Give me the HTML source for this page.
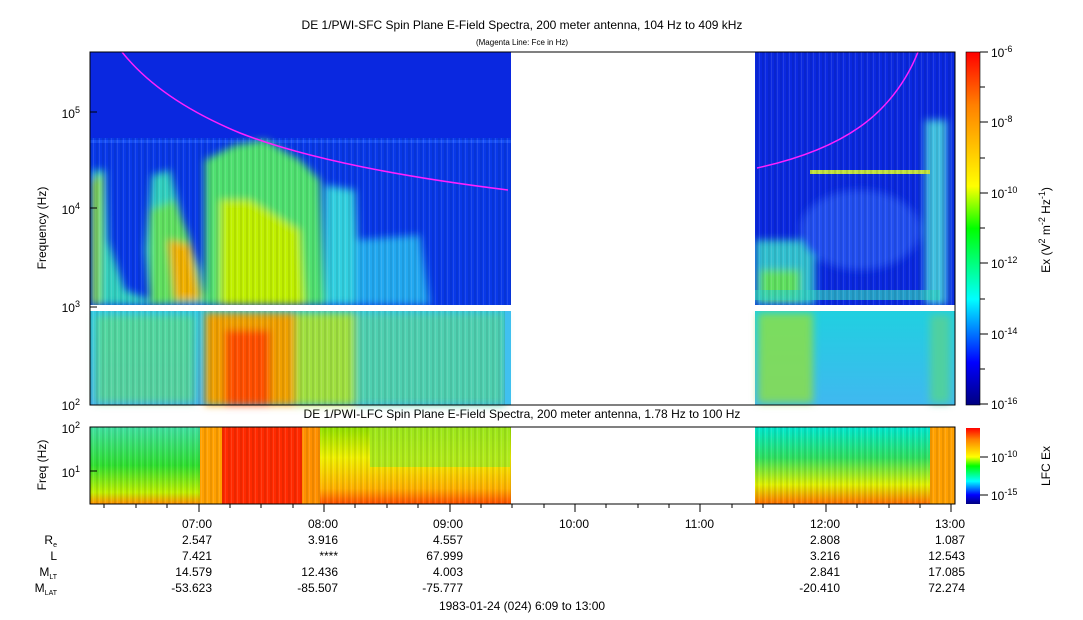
<!DOCTYPE html>
<html><head><style>
html,body{margin:0;padding:0;background:#fff;}
svg{display:block;font-family:"Liberation Sans",sans-serif;}
</style></head><body>
<svg width="1083" height="620" viewBox="0 0 1083 620" xmlns="http://www.w3.org/2000/svg">
<defs>
<linearGradient id="cb" x1="0" y1="1" x2="0" y2="0">
<stop offset="0" stop-color="#00007f"/><stop offset="0.12" stop-color="#0000ff"/>
<stop offset="0.3" stop-color="#00ffff"/><stop offset="0.5" stop-color="#00ff00"/>
<stop offset="0.62" stop-color="#ffff00"/><stop offset="0.85" stop-color="#ff8000"/>
<stop offset="1" stop-color="#ff0000"/></linearGradient>
<linearGradient id="lowL" x1="0" y1="0" x2="0" y2="1">
<stop offset="0" stop-color="#30c8e8"/><stop offset="1" stop-color="#40b0f0"/></linearGradient>
<linearGradient id="lowR" x1="0" y1="0" x2="0" y2="1">
<stop offset="0" stop-color="#20d0e0"/><stop offset="1" stop-color="#40b8f0"/></linearGradient>
<linearGradient id="lfcL" x1="0" y1="0" x2="0" y2="1">
<stop offset="0" stop-color="#40e0a0"/><stop offset="0.5" stop-color="#30e030"/><stop offset="0.85" stop-color="#c0f000"/><stop offset="1" stop-color="#ff9000"/></linearGradient>
<linearGradient id="lfcM" x1="0" y1="0" x2="0" y2="1">
<stop offset="0" stop-color="#90e000"/><stop offset="0.4" stop-color="#f0f000"/><stop offset="0.8" stop-color="#ffb000"/><stop offset="1" stop-color="#ff5000"/></linearGradient>
<linearGradient id="lfcR" x1="0" y1="0" x2="0" y2="1">
<stop offset="0" stop-color="#00e8d0"/><stop offset="0.4" stop-color="#30e060"/><stop offset="0.75" stop-color="#e0f000"/><stop offset="1" stop-color="#ff7000"/></linearGradient>
<filter id="bl" x="-20%" y="-20%" width="140%" height="140%"><feGaussianBlur stdDeviation="4"/></filter>
<pattern id="vs" width="6" height="10" patternUnits="userSpaceOnUse"><rect x="0" y="0" width="2" height="10" fill="#000" opacity="0.08"/><rect x="3" y="0" width="1" height="10" fill="#fff" opacity="0.1"/></pattern>
<clipPath id="c1"><rect x="90" y="52" width="421" height="253"/></clipPath>
<clipPath id="c2"><rect x="755" y="52" width="200" height="253"/></clipPath>
</defs>

<text x="522" y="29" font-size="12" text-anchor="middle">DE 1/PWI-SFC  Spin Plane E-Field Spectra, 200 meter antenna, 104 Hz to 409 kHz</text>
<text x="522" y="45" font-size="8" text-anchor="middle">(Magenta Line: Fce in Hz)</text>
<text x="522" y="418" font-size="12" text-anchor="middle">DE 1/PWI-LFC  Spin Plane E-Field Spectra, 200 meter antenna, 1.78 Hz to 100 Hz</text>

<rect x="90" y="52" width="421" height="253" fill="#0a28e0"/>
<g clip-path="url(#c1)">
<rect x="90" y="138" width="421" height="167" fill="#0838e8"/>
<rect x="90" y="140" width="421" height="3" fill="#1850f8"/>
<g filter="url(#bl)">
<path d="M92 170 L105 170 L108 240 L125 290 L150 300 L145 250 L152 175 L170 170 L185 230 L200 270 L205 305 L92 305 Z" fill="#30d0c0"/>
<path d="M92 180 L102 175 L100 305 L92 305 Z" fill="#90e030"/>
<path d="M150 210 L175 200 L190 240 L205 300 L150 305 Z" fill="#60e060"/>
<path d="M168 240 L190 245 L200 300 L175 300 Z" fill="#f0b000"/>
<path d="M205 160 L235 145 L265 140 L300 160 L320 180 L325 305 L205 305 Z" fill="#50e070"/>
<path d="M220 200 L250 200 L300 230 L305 305 L220 305 Z" fill="#c0f000"/>
<path d="M325 185 L355 190 L360 305 L325 305 Z" fill="#30d0e0"/>
<path d="M355 240 L420 235 L430 305 L355 305 Z" fill="#20a8f0"/>
</g>
<rect x="90" y="138" width="421" height="167" fill="url(#vs)"/>
<path d="M122 52 Q 160 100 240 133 Q 330 168 508 190" stroke="#ff20ff" stroke-width="1.5" fill="none"/>
</g>
<rect x="90" y="311" width="421" height="94" fill="url(#lowL)"/>
<g filter="url(#bl)">
<rect x="95" y="315" width="100" height="88" fill="#60e080" opacity="0.7"/>
<rect x="205" y="313" width="90" height="92" fill="#f0a000"/>
<rect x="225" y="330" width="45" height="75" fill="#ff5000"/>
<rect x="295" y="313" width="60" height="92" fill="#a0e040"/>
<rect x="355" y="313" width="150" height="92" fill="#50d0b0"/>
</g>
<rect x="90" y="311" width="421" height="94" fill="url(#vs)"/>
<rect x="505" y="311" width="6" height="94" fill="#40c0f0"/>

<rect x="755" y="52" width="200" height="253" fill="#0a28e0"/>
<g clip-path="url(#c2)">
<g filter="url(#bl)">
<rect x="755" y="240" width="60" height="65" fill="#30c0d0"/>
<rect x="760" y="270" width="40" height="30" fill="#60e060"/>
<ellipse cx="860" cy="230" rx="60" ry="40" fill="#2050f0"/>
<rect x="925" y="120" width="22" height="185" fill="#40c0e0"/>
</g>
<rect x="810" y="170" width="120" height="4" fill="#c0e040"/>
<rect x="755" y="290" width="185" height="10" fill="#30d0c0" opacity="0.7"/>
<rect x="755" y="52" width="200" height="253" fill="url(#vs)"/>
<path d="M757 168 Q 840 150 880 110 Q 905 85 918 52" stroke="#ff20ff" stroke-width="1.5" fill="none"/>
</g>
<rect x="755" y="311" width="200" height="94" fill="url(#lowR)"/>
<g filter="url(#bl)">
<rect x="758" y="313" width="55" height="90" fill="#90e040" opacity="0.8"/>
<rect x="930" y="315" width="20" height="88" fill="#50d0a0"/>
</g>
<rect x="90" y="305" width="865" height="6" fill="#fff"/>
<rect x="90" y="52" width="865" height="353" fill="none" stroke="#000" stroke-width="1"/>

<rect x="90" y="427" width="421" height="77" fill="url(#lfcM)"/>
<rect x="90" y="427" width="125" height="77" fill="url(#lfcL)"/>
<rect x="222" y="427" width="80" height="77" fill="#ff2a00"/>
<rect x="200" y="427" width="22" height="77" fill="#ffa000"/>
<rect x="302" y="427" width="18" height="77" fill="#ff9000"/>
<rect x="370" y="427" width="140" height="40" fill="#a0e820" opacity="0.8"/>
<rect x="755" y="427" width="200" height="77" fill="url(#lfcR)"/>
<rect x="930" y="427" width="25" height="77" fill="#ffa000"/>
<rect x="90" y="427" width="421" height="77" fill="url(#vs)"/>
<rect x="755" y="427" width="200" height="77" fill="url(#vs)"/>
<rect x="90" y="427" width="865" height="77" fill="none" stroke="#000" stroke-width="1"/>

<rect x="966" y="52" width="14" height="353" fill="url(#cb)"/>
<rect x="966" y="52" width="14" height="353" fill="none" stroke="#000" stroke-width="0.6"/>
<rect x="966" y="428" width="14" height="76" fill="url(#cb)"/>
<g stroke="#000" stroke-width="1">
<line x1="980" y1="52" x2="988" y2="52"/><line x1="980" y1="122" x2="988" y2="122"/>
<line x1="980" y1="193" x2="988" y2="193"/><line x1="980" y1="263" x2="988" y2="263"/>
<line x1="980" y1="334" x2="988" y2="334"/><line x1="980" y1="404" x2="988" y2="404"/>
<line x1="980" y1="87" x2="985" y2="87"/><line x1="980" y1="158" x2="985" y2="158"/>
<line x1="980" y1="228" x2="985" y2="228"/><line x1="980" y1="299" x2="985" y2="299"/>
<line x1="980" y1="369" x2="985" y2="369"/>
<line x1="980" y1="457" x2="988" y2="457"/><line x1="980" y1="495" x2="988" y2="495"/>
</g>
<g font-size="12">
<text x="991" y="57">10<tspan font-size="9" dy="-5">-6</tspan></text>
<text x="991" y="127">10<tspan font-size="9" dy="-5">-8</tspan></text>
<text x="991" y="198">10<tspan font-size="9" dy="-5">-10</tspan></text>
<text x="991" y="268">10<tspan font-size="9" dy="-5">-12</tspan></text>
<text x="991" y="339">10<tspan font-size="9" dy="-5">-14</tspan></text>
<text x="991" y="409">10<tspan font-size="9" dy="-5">-16</tspan></text>
<text x="991" y="462">10<tspan font-size="9" dy="-5">-10</tspan></text>
<text x="991" y="500">10<tspan font-size="9" dy="-5">-15</tspan></text>
<text transform="translate(1050,230) rotate(-90)" text-anchor="middle">Ex (V<tspan font-size="9" dy="-5">2</tspan><tspan dy="5"> m</tspan><tspan font-size="9" dy="-5">-2</tspan><tspan dy="5"> Hz</tspan><tspan font-size="9" dy="-5">-1</tspan><tspan dy="5">)</tspan></text>
<text transform="translate(1050,466) rotate(-90)" text-anchor="middle">LFC Ex</text>
</g>

<g font-size="12" text-anchor="end">
<text x="80" y="118">10<tspan font-size="9" dy="-5">5</tspan></text>
<text x="80" y="214">10<tspan font-size="9" dy="-5">4</tspan></text>
<text x="80" y="312">10<tspan font-size="9" dy="-5">3</tspan></text>
<text x="80" y="410">10<tspan font-size="9" dy="-5">2</tspan></text>
<text x="80" y="433">10<tspan font-size="9" dy="-5">2</tspan></text>
<text x="80" y="477">10<tspan font-size="9" dy="-5">1</tspan></text>
</g>
<g stroke="#000" stroke-width="1">
<line x1="90" y1="112" x2="97" y2="112"/><line x1="90" y1="208" x2="97" y2="208"/>
<line x1="90" y1="307" x2="97" y2="307"/><line x1="90" y1="471" x2="97" y2="471"/>
</g>
<text transform="translate(46,228) rotate(-90)" font-size="12" text-anchor="middle">Frequency (Hz)</text>
<text transform="translate(46,465) rotate(-90)" font-size="12" text-anchor="middle">Freq (Hz)</text>

<g stroke="#000" stroke-width="1">
<line x1="199" y1="504" x2="199" y2="512"/><line x1="324" y1="504" x2="324" y2="512"/>
<line x1="450" y1="504" x2="450" y2="512"/><line x1="575" y1="504" x2="575" y2="512"/>
<line x1="700" y1="504" x2="700" y2="512"/><line x1="826" y1="504" x2="826" y2="512"/>
<line x1="951" y1="504" x2="951" y2="512"/>
<line x1="104" y1="504" x2="104" y2="508"/><line x1="136" y1="504" x2="136" y2="508"/><line x1="167" y1="504" x2="167" y2="508"/>
<line x1="230" y1="504" x2="230" y2="508"/><line x1="261" y1="504" x2="261" y2="508"/><line x1="293" y1="504" x2="293" y2="508"/>
<line x1="355" y1="504" x2="355" y2="508"/><line x1="387" y1="504" x2="387" y2="508"/><line x1="418" y1="504" x2="418" y2="508"/>
<line x1="481" y1="504" x2="481" y2="508"/><line x1="512" y1="504" x2="512" y2="508"/><line x1="544" y1="504" x2="544" y2="508"/>
<line x1="606" y1="504" x2="606" y2="508"/><line x1="638" y1="504" x2="638" y2="508"/><line x1="669" y1="504" x2="669" y2="508"/>
<line x1="732" y1="504" x2="732" y2="508"/><line x1="763" y1="504" x2="763" y2="508"/><line x1="794" y1="504" x2="794" y2="508"/>
<line x1="857" y1="504" x2="857" y2="508"/><line x1="889" y1="504" x2="889" y2="508"/><line x1="920" y1="504" x2="920" y2="508"/>
</g>
<g font-size="12" text-anchor="end">
<text x="212" y="528">07:00</text><text x="338" y="528">08:00</text><text x="463" y="528">09:00</text>
<text x="589" y="528">10:00</text><text x="714" y="528">11:00</text><text x="840" y="528">12:00</text><text x="965" y="528">13:00</text>
<text x="212" y="544">2.547</text><text x="338" y="544">3.916</text><text x="463" y="544">4.557</text><text x="840" y="544">2.808</text><text x="965" y="544">1.087</text>
<text x="212" y="560">7.421</text><text x="338" y="560">****</text><text x="463" y="560">67.999</text><text x="840" y="560">3.216</text><text x="965" y="560">12.543</text>
<text x="212" y="576">14.579</text><text x="338" y="576">12.436</text><text x="463" y="576">4.003</text><text x="840" y="576">2.841</text><text x="965" y="576">17.085</text>
<text x="212" y="592">-53.623</text><text x="338" y="592">-85.507</text><text x="463" y="592">-75.777</text><text x="840" y="592">-20.410</text><text x="965" y="592">72.274</text>
<text x="57" y="544">R<tspan font-size="7" dy="3">e</tspan></text>
<text x="57" y="560">L</text>
<text x="57" y="576">M<tspan font-size="7" dy="3">LT</tspan></text>
<text x="57" y="592">M<tspan font-size="7" dy="3">LAT</tspan></text>
</g>
<text x="522" y="610" font-size="12" text-anchor="middle">1983-01-24 (024) 6:09 to 13:00</text>
</svg>
</body></html>
